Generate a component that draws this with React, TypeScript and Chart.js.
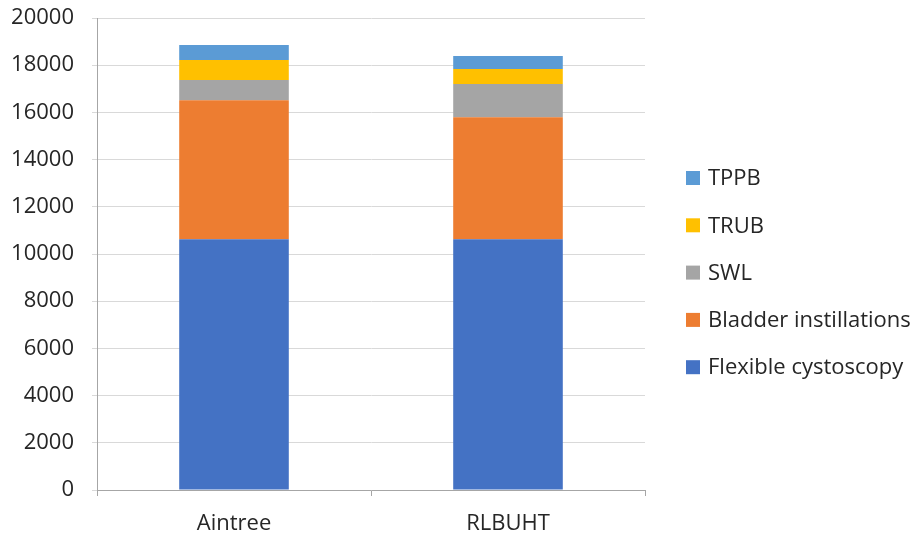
import React, { useEffect, useRef } from "react";
import { Chart, registerables } from "chart.js";

Chart.register(...registerables);

const categories = ["Aintree", "RLBUHT"];
const seriesNames = ["Flexible cystoscopy", "Bladder instillations", "SWL", "TRUB", "TPPB"];
const flexibleCystoscopy = [10620, 10620];
const bladderInstillations = [5890, 5170];
const swl = [860, 1410];
const trub = [850, 640];
const tppb = [640, 550];
const seriesColors = ["#4472C4", "#ED7D31", "#A5A5A5", "#FFC000", "#5B9BD5"];
const yTicksMax = 20000;
const yTickStep = 2000;

const FONT = "'Open Sans', 'Liberation Sans', sans-serif";
const TEXT = "#262626";

const legendPlugin = {
  id: "customLegend",
  afterDraw(chart: any) {
    const ctx = chart.ctx;
    const ds = chart.data.datasets.slice().reverse();
    const spacing = 47.3;
    const startY = 178;
    const swatchX = 686;
    const textX = 708;
    ctx.save();
    ctx.font = `22px ${FONT}`;
    ctx.textBaseline = "middle";
    ctx.textAlign = "left";
    ds.forEach((d: any, i: number) => {
      const y = startY + i * spacing;
      ctx.fillStyle = d.backgroundColor;
      ctx.fillRect(swatchX, y - 7, 14, 14);
      ctx.fillStyle = TEXT;
      ctx.fillText(d.label, textX, y + 1);
    });
    ctx.restore();
  },
};

const zeroPad = (s: any) => {
  s.paddingTop = 0;
  s.paddingBottom = 0;
  s.paddingLeft = 0;
  s.paddingRight = 0;
};

export default function App() {
  const ref = useRef<HTMLCanvasElement>(null);
  useEffect(() => {
    document.body.style.margin = "0";
    const values = [flexibleCystoscopy, bladderInstillations, swl, trub, tppb];
    const chart = new Chart(ref.current!, {
      type: "bar",
      data: {
        labels: categories,
        datasets: seriesNames.map((name, i) => ({
          label: name,
          data: values[i],
          backgroundColor: seriesColors[i],
          borderWidth: 0,
          categoryPercentage: 1,
          barPercentage: 0.4,
        })),
      },
      options: {
        responsive: false,
        animation: false,
        layout: { padding: { left: 11, right: 272, top: 18, bottom: 0 } },
        plugins: { legend: { display: false }, tooltip: { enabled: false } },
        scales: {
          x: {
            stacked: true,
            grid: {
              offset: true,
              drawOnChartArea: false,
              tickLength: 6,
              color: "#a6a6a6",
            },
            border: { display: true, color: "#a6a6a6" },
            ticks: { font: { family: FONT, size: 22 }, color: TEXT, padding: 15, maxRotation: 0 },
            afterFit: (s: any) => {
              s.height = 47;
              zeroPad(s);
            },
          },
          y: {
            stacked: true,
            min: 0,
            max: yTicksMax,
            grid: { color: "#d9d9d9", tickLength: 5 },
            border: { display: true, color: "#a6a6a6" },
            ticks: {
              stepSize: yTickStep,
              font: { family: FONT, size: 22 },
              color: TEXT,
              padding: 18,
              callback: (v: any) => String(v),
            },
            afterFit: (s: any) => {
              s.width = 86;
              zeroPad(s);
            },
          },
        },
      },
      plugins: [legendPlugin],
    });
    return () => chart.destroy();
  }, []);
  return (
    <div style={{ width: 917, height: 537 }}>
      <canvas ref={ref} width={917} height={537} />
    </div>
  );
}
